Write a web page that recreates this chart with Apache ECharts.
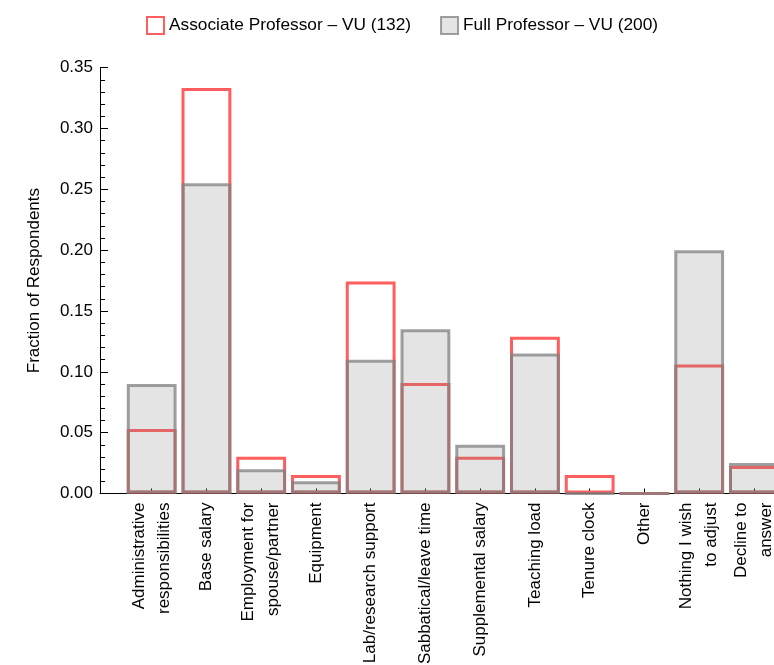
<!DOCTYPE html>
<html>
<head>
<meta charset="utf-8">
<script src="https://cdn.jsdelivr.net/npm/echarts@6/dist/echarts.min.js"></script>
<style>
html,body{margin:0;padding:0;background:#fff;}
#chart{width:774px;height:665px;}
</style>
</head>
<body>
<div id="chart"></div>
<script>
var categories = [
  "Administrative\nresponsibilities",
  "Base salary",
  "Employment for\nspouse/partner",
  "Equipment",
  "Lab/research support",
  "Sabbatical/leave time",
  "Supplemental salary",
  "Teaching load",
  "Tenure clock",
  "Other",
  "Nothing I wish\nto adjust",
  "Decline to\nanswer"
];
var associateValues = [0.053, 0.3333, 0.0303, 0.0152, 0.1742, 0.0909, 0.0303, 0.1288, 0.0152, 0, 0.1061, 0.0227];
var fullValues = [0.09, 0.255, 0.02, 0.01, 0.11, 0.135, 0.04, 0.115, 0, 0, 0.2, 0.025];
var seriesNames = ["Associate Professor \u2013 VU (132)", "Full Professor \u2013 VU (200)"];
var yTicks = { min: 0, max: 0.35, interval: 0.05 };

var FONT = "Liberation Sans, Arial, sans-serif";
var chart = echarts.init(document.getElementById('chart'), null, {renderer: 'canvas'});
var topPx = 67.7, hPx = 425.8;
chart.setOption({
  animation: false,
  backgroundColor: '#fff',
  textStyle: {fontFamily: FONT},
  legend: {
    top: 16,
    left: 146,
    icon: 'rect',
    itemWidth: 17,
    itemHeight: 17,
    itemGap: 29,
    padding: 0,
    textStyle: {fontFamily: FONT, fontSize: 17.3, color: '#000'},
    data: seriesNames
  },
  grid: [
    {left: 124.3, width: 657, top: topPx, height: hPx, containLabel: false, outerBoundsMode: 'none'},
    {left: 100, width: 720, top: topPx, height: hPx, containLabel: false, outerBoundsMode: 'none'}
  ],
  xAxis: [
    {
      type: 'category', gridIndex: 0, data: categories,
      axisLine: {show: false},
      axisTick: {show: true, inside: true, alignWithLabel: true, length: 5, lineStyle: {color: '#000'}},
      axisLabel: {rotate: 90, fontFamily: FONT, fontSize: 17, color: '#000', lineHeight: 25, margin: 9, interval: 0}
    },
    {
      type: 'value', gridIndex: 1, min: 0, max: 1,
      axisLine: {show: true, onZero: false, lineStyle: {color: '#000', width: 1}},
      axisTick: {show: false}, axisLabel: {show: false}, splitLine: {show: false}
    }
  ],
  yAxis: [
    {
      type: 'value', gridIndex: 0, min: yTicks.min, max: yTicks.max, interval: yTicks.interval,
      show: false
    },
    {
      type: 'value', gridIndex: 1, min: yTicks.min, max: yTicks.max, interval: yTicks.interval,
      name: 'Fraction of Respondents', nameLocation: 'middle', nameGap: 57,
      nameTextStyle: {fontFamily: FONT, fontSize: 17, color: '#000'},
      axisLine: {show: true, lineStyle: {color: '#000', width: 1}},
      axisTick: {show: true, inside: true, length: 8, lineStyle: {color: '#000'}},
      minorTick: {show: true, splitNumber: 5, length: 5, lineStyle: {color: '#000'}},
      axisLabel: {fontFamily: FONT, fontSize: 17, color: '#000', margin: 7,
        formatter: function (v) { return v.toFixed(2); }},
      splitLine: {show: false}
    }
  ],
  series: [
    {
      name: seriesNames[0], type: 'bar', xAxisIndex: 0, yAxisIndex: 0,
      data: associateValues, barWidth: '91%', barGap: '-100%',
      itemStyle: {color: 'rgba(255,255,255,0)', borderColor: '#ff5e5e', borderWidth: 3}
    },
    {
      name: seriesNames[1], type: 'bar', xAxisIndex: 0, yAxisIndex: 0,
      data: fullValues, barWidth: '91%', barGap: '-100%',
      itemStyle: {color: 'rgba(128,128,128,0.21)', borderColor: 'rgba(128,128,128,0.75)', borderWidth: 3}
    }
  ]
});
</script>
</body>
</html>
